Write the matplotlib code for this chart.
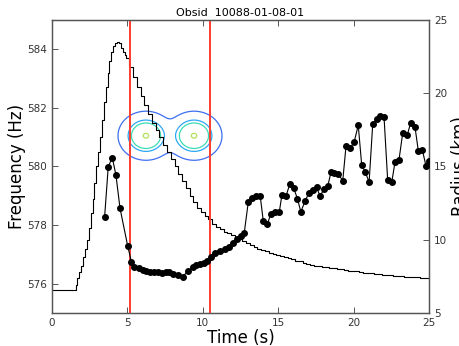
import matplotlib
matplotlib.use('Agg')
import matplotlib.pyplot as plt
import numpy as np

# ── data ──────────────────────────────────────────────────────────────────────
# stepped curve (left axis, Hz): 0.25 s samples, 0.125 s around the peak
curve_t = np.concatenate([np.arange(0, 1.5, 0.25),
                          np.arange(1.5, 5.0, 0.125),
                          np.arange(5.0, 25.01, 0.25)])
curve_f = [575.80, 575.80, 575.80, 575.80, 575.80, 575.80,
           575.80, 575.95, 576.20, 576.40, 576.60, 576.90, 577.20, 577.50,
           577.90, 578.40, 578.90, 579.45, 580.00, 580.50, 581.00, 581.60,
           582.20, 582.70, 583.20, 583.60, 583.90, 584.10, 584.20, 584.25,
           584.20, 584.05, 583.90, 583.80,
           583.70, 583.40, 583.05, 582.70,
           582.40, 582.10, 581.80, 581.50, 581.25, 581.00, 580.75, 580.50,
           580.25, 580.00, 579.75, 579.50, 579.25, 579.00, 578.80, 578.60,
           578.45, 578.30, 578.20, 578.05, 577.95, 577.85, 577.78, 577.72,
           577.67, 577.60, 577.53, 577.46, 577.39, 577.32, 577.26, 577.20,
           577.15, 577.10, 577.06, 577.02, 576.98, 576.94, 576.90, 576.87,
           576.83, 576.79, 576.76, 576.72, 576.68, 576.64, 576.61, 576.59,
           576.57, 576.56, 576.55, 576.53, 576.51, 576.49, 576.47, 576.45,
           576.44, 576.42, 576.40, 576.38, 576.36, 576.35, 576.33, 576.32,
           576.31, 576.30, 576.28, 576.27, 576.25, 576.25, 576.24, 576.24,
           576.23, 576.22, 576.21, 576.20, 576.19]

# dots (right axis, km)
dot_t = [3.49, 3.73, 4.00, 4.24, 4.51, 5.02, 5.27, 5.47, 5.74, 6.01, 6.23,
         6.50, 6.76, 7.01, 7.27, 7.53, 7.78, 8.04, 8.38, 8.67, 9.04, 9.33,
         9.55, 9.81, 10.05, 10.30, 10.54, 10.81, 11.14, 11.47, 11.74, 12.00,
         12.27, 12.51, 12.75, 13.02, 13.26, 13.55, 13.81, 14.01, 14.28, 14.50,
         14.79, 15.07, 15.25, 15.52, 15.78, 16.03, 16.28, 16.50, 16.78, 17.04,
         17.29, 17.55, 17.77, 18.04, 18.29, 18.50, 18.71, 18.99, 19.28, 19.50,
         19.76, 20.03, 20.31, 20.54, 20.76, 21.03, 21.27, 21.53, 21.75, 22.02,
         22.26, 22.53, 22.75, 23.01, 23.26, 23.56, 23.79, 24.07, 24.29, 24.56,
         24.81, 24.98]
dot_r = [11.57, 14.99, 15.60, 14.42, 12.15, 9.57, 8.48, 8.17, 8.04, 7.94, 7.87,
         7.78, 7.83, 7.82, 7.75, 7.80, 7.80, 7.66, 7.59, 7.48, 7.89, 8.12,
         8.28, 8.34, 8.41, 8.57, 8.82, 9.12, 9.23, 9.35, 9.51, 9.78,
         10.05, 10.26, 10.48, 12.60, 12.83, 12.99, 12.97, 11.28, 11.05, 11.74,
         11.86, 11.87, 13.08, 12.99, 13.83, 13.53, 12.78, 11.91, 12.63, 13.21,
         13.42, 13.57, 12.99, 13.44, 13.67, 14.61, 14.56, 14.51, 14.01, 16.42,
         16.24, 16.65, 17.81, 15.07, 14.65, 13.94, 17.90, 18.26, 18.45, 18.36,
         14.08, 13.91, 15.33, 15.44, 17.31, 17.15, 17.99, 17.72, 16.08, 16.13,
         15.00, 15.40]

vline_t = [5.19, 10.5]

# contour inset: two lobes (time, Hz centres), widths
lobe_t = [6.23, 9.42]
lobe_f = [581.05, 581.05]
lobe_sig_t = 0.73
lobe_sig_f = 0.33
levels = [0.04, 0.27, 0.42, 0.97]
level_colors = ['#3f6ff0', '#2fa8f5', '#3ddcb5', '#b5e060']

# ── figure ────────────────────────────────────────────────────────────────────
fig = plt.figure(figsize=(4.59, 3.46), dpi=100)
ax = fig.add_axes([0.1133, 0.0954, 0.8213, 0.8468])
ax2 = ax.twinx()

tt, ff = np.meshgrid(np.linspace(4.2, 11.4, 220), np.linspace(579.4, 582.2, 140))
field = np.zeros_like(tt)
for ct, cf in zip(lobe_t, lobe_f):
    field += np.exp(-((tt - ct) ** 2 / (2 * lobe_sig_t ** 2)
                      + (ff - cf) ** 2 / (2 * lobe_sig_f ** 2)))
ax.contour(tt, ff, field, levels=levels, colors=level_colors,
           linewidths=0.9, zorder=1)

ax.plot(curve_t, curve_f, drawstyle='steps-mid', color='black', lw=0.8, zorder=2)
for x in vline_t:
    ax.axvline(x, color='#ff3b30', lw=1.4, zorder=3)

ax2.plot(dot_t, dot_r, '-o', color='black', lw=0.8, ms=4, zorder=4)

ax.set_xlim(0, 25)
ax.set_ylim(575, 585)
ax2.set_ylim(5, 25)
ax.set_xticks([0, 5, 10, 15, 20, 25])
ax.set_yticks([576, 578, 580, 582, 584])
ax2.set_yticks([5, 10, 15, 20, 25])

for a in (ax, ax2):
    for s in a.spines.values():
        s.set_color('#555555')
        s.set_linewidth(0.9)
ax.tick_params(axis='both', direction='in', length=4, width=0.7,
               colors='#555555', labelcolor='#333333', labelsize=7.5,
               top=True)
ax2.tick_params(axis='y', direction='in', length=4, width=0.7,
                colors='#555555', labelcolor='#333333', labelsize=7.5)

ax.set_xlabel('Time (s)', fontsize=12, labelpad=1)
ax.set_ylabel('Frequency (Hz)', fontsize=12, labelpad=1)
ax2.set_ylabel('Radius (km)', fontsize=12, labelpad=3)
ax.set_title('Obsid  10088-01-08-01', fontsize=8, pad=3)

fig.savefig('out.png', dpi=100)
